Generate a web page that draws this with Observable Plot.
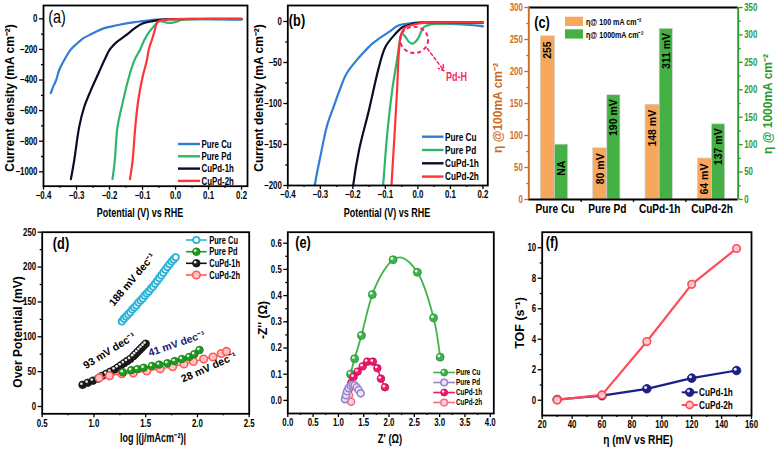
<!DOCTYPE html>
<html><head><meta charset="utf-8">
<script src="https://cdn.jsdelivr.net/npm/d3@7"></script>
<script src="https://cdn.jsdelivr.net/npm/@observablehq/plot@0.6"></script>
<style>
body{margin:0;background:#fff}
#fig{position:relative;width:778px;height:451px;overflow:hidden;background:#fff}
</style></head><body><div id="fig"></div>
<script>
// ---------- (a)/(b) LSV data : potential (V vs RHE) and current density (mA cm-2)
const cuV = [0.20,0.15,0.10,0.05,0.00,-0.03,-0.06,-0.09,-0.12,-0.14,-0.17,-0.19,-0.22,-0.24,-0.26,-0.28,-0.30,-0.317,-0.338,-0.353,-0.362,-0.370,-0.378];
const cuJ = [-6,-4,-3,-2,-1.5,-2.5,-5,-13,-21,-27,-39,-48,-64,-83,-105,-128,-165,-200,-273,-338,-403,-440,-486];
const pdV = [0.20,0.10,0.039,0.018,0.003,-0.008,-0.017,-0.027,-0.038,-0.048,-0.053,-0.063,-0.079,-0.095,-0.107,-0.125,-0.144,-0.161,-0.176,-0.184,-0.191];
const pdJ = [-2,-2.5,-3.7,-7,-19,-25,-27,-25,-19,-15,-19,-43.5,-84,-140,-200,-273,-403,-556,-708,-926,-1048];
const h1V = [0.20,0.10,0.00,-0.017,-0.048,-0.069,-0.10,-0.12,-0.151,-0.181,-0.199,-0.216,-0.232,-0.257,-0.277,-0.292,-0.307,-0.317];
const h1J = [-1,-1,-1.5,-3,-7,-15,-31,-56,-109,-157,-200,-273,-349,-469,-578,-708,-926,-1048];
const h2V = [0.20,0.10,0.01,-0.012,-0.038,-0.051,-0.058,-0.064,-0.072,-0.081,-0.087,-0.10,-0.113,-0.122,-0.130,-0.138];
const h2J = [-1,-1,-2,-3.7,-7,-15,-35,-84,-140,-200,-273,-382,-534,-708,-926,-1048];
const seriesNames = ["Pure Cu","Pure Pd","CuPd-1h","CuPd-2h"];
// Pd-H annotation in (b)
const pdhEllipse = {cx:-0.01, cy:-23, rx:0.043, ry:16};
const pdhArrow = [{x1:0.029, y1:-33, x2:0.080, y2:-60}];
const pdhLabel = [{x:0.119, y:-68, t:"Pd-H"}];

// ---------- (c) overpotentials
const catNames = ["Pure Cu","Pure Pd","CuPd-1h","CuPd-2h"];
const eta100 = [255,80,148,64];
const eta100Lbl = ["255","80 mV","148 mV","64 mV"];
const eta1000 = [100,190,311,137];
const eta1000Lbl = ["NA","190 mV","311 mV","137 mV"];

// ---------- (d) Tafel
const tCuX = [1.27,1.29,1.31,1.33,1.35,1.37,1.39,1.41,1.43,1.45,1.47,1.49,1.51,1.53,1.55,1.57,1.59,1.61,1.63,1.65,1.67,1.69,1.71,1.73,1.75,1.77,1.79];
const tCuY = [122,126,129,132,135,139,142,145,149,152,155,159,162,165,169,172,176,180,184,188,192,196,200,204,208,211,214];
const tPdX = [1.28,1.36,1.42,1.48,1.56,1.63,1.71,1.78,1.85,1.92,1.97,2.02];
const tPdY = [49,52,53.5,55.5,58,60,62,65,68,71,75,81];
const t1hX = [0.89,0.94,0.99,1.04,1.08,1.12,1.16,1.20,1.23,1.26,1.29,1.32,1.35,1.38,1.40,1.42,1.44,1.46,1.48,1.50];
const t1hY = [31,34,37,40,44,47,50,53,56,59,62,65,68,72,75,78,81,84,87,90];
const t2hX = [1.05,1.15,1.27,1.38,1.51,1.64,1.76,1.87,1.96,2.06,2.15,2.23,2.28];
const t2hY = [41,44,47,48,51,54,57,61,64.5,68,71,76,79];
const tafelText = ["188 mV dec\u207B\u00B9","93 mV dec\u207B\u00B9","41 mV dec\u207B\u00B9","28 mV dec\u207B\u00B9"];
const tafelX = [1.37,1.15,1.80,2.11];
const tafelY = [182,80,90,56];
const tafelRot = [-50,-32,-19,-24];
const tafelCol = ["#000","#000","#1a1a6e","#000"];

// ---------- (e) Nyquist
const nCuX = [1.24,1.32,1.455,1.67,2.08,2.56,2.88,3.01];
const nCuY = [0.10,0.159,0.248,0.404,0.537,0.489,0.315,0.165];
const nCuFitX = [1.17,1.24,1.32,1.455,1.67,1.88,2.08,2.25,2.56,2.88,3.01];
const nCuFitY = [0.03,0.10,0.159,0.248,0.404,0.49,0.537,0.545,0.489,0.315,0.165];
const nPdX = [1.13,1.15,1.17,1.20,1.24,1.28,1.32,1.36,1.40,1.44];
const nPdY = [0.005,0.02,0.035,0.047,0.056,0.06,0.058,0.05,0.04,0.027];
const n1hX = [1.21,1.25,1.30,1.38,1.48,1.57,1.68,1.77,1.84,1.92];
const n1hY = [0.045,0.065,0.09,0.11,0.13,0.148,0.148,0.123,0.083,0.05];
const n2hX = [1.14,1.17,1.21,1.25];
const n2hY = [0.01,0.025,0.02,-0.005];

// ---------- (f) TOF
const tofEta = [30,60,90,120,150];
const tof1h = [0.05,0.3,0.75,1.45,1.95];
const tof2h = [0.02,0.35,3.85,7.6,9.95];

// ================= drawing =================
const F = '"Liberation Sans", Arial, Helvetica, sans-serif';
const SX = 0.75;
const base = {fontFamily: F, fontSize: "10.5px", fontWeight: "bold", color: "#000", background: "transparent", overflow: "visible"};
const fig = document.getElementById("fig");
const fmt1 = d3.format(".1f"), fmt0 = d3.format("d");
const pts = (X, Y) => X.map((x, i) => ({x, y: Y[i]}));

function condense(svg) {
  svg.querySelectorAll("text").forEach(t => {
    const tr = t.getAttribute("transform") || "";
    if (/rotate/.test(tr)) return;
    t.setAttribute("transform", tr + ` scale(${SX},1)`);
  });
}
function put(svg, left, top) {
  condense(svg);
  svg.style.position = "absolute"; svg.style.left = left + "px"; svg.style.top = top + "px";
  fig.appendChild(svg); return svg;
}
function axes(xMaj, xMin, yMaj, yMin, xf, yf) {
  return [
    Plot.axisX({ticks: xMaj, tickSize: 4, tickPadding: 1.5, tickFormat: xf, label: null, strokeWidth: 1.3}),
    Plot.axisX({ticks: xMin, tickSize: 2, tickFormat: () => "", label: null, strokeWidth: 1.3}),
    Plot.axisY({ticks: yMaj, tickSize: 4, tickPadding: 2, tickFormat: yf, label: null, strokeWidth: 1.3}),
    Plot.axisY({ticks: yMin, tickSize: 2, tickFormat: () => "", label: null, strokeWidth: 1.3})
  ];
}
const frame = () => Plot.frame({stroke: "#000", strokeWidth: 1.8});
function sphere(data, c, r = 4) {
  return [
    Plot.dot(data, {x: "x", y: "y", r, fill: c, stroke: d3.color(c).darker(0.7) + "", strokeWidth: 0.8}),
    Plot.dot(data, {x: "x", y: "y", r: r * 0.35, fill: "#fff", fillOpacity: 0.9, dx: -r * 0.3, dy: -r * 0.3})
  ];
}
function ring(data, c, fill, r = 3.6, sw = 1.5) {
  return [Plot.dot(data, {x: "x", y: "y", r, fill, stroke: c, strokeWidth: sw})];
}

// colours
const C_CU = "#2f7dd6", C_PD = "#2fb56c", C_1H = "#0c0c24", C_2H = "#ff3535";
const lsvSets = [[cuV, cuJ, C_CU], [pdV, pdJ, C_PD], [h1V, h1J, C_1H], [h2V, h2J, C_2H]];
const lsvLines = (clip) => lsvSets.map(([V, J, c]) => Plot.line(pts(V, J), {x: "x", y: "y", stroke: c, strokeWidth: 2.2, curve: "catmull-rom", clip}));

// (a)
const pa = Plot.plot({
  width: 260, height: 215, marginLeft: 43, marginRight: 13, marginTop: 5, marginBottom: 29.3,
  x: {domain: [-0.4, 0.218]}, y: {domain: [-1094, 87]}, style: base,
  marks: [
    ...lsvLines(false),
    ...axes(d3.range(-4, 3).map(v => v / 10), d3.range(-7, 5, 2).map(v => v / 20), d3.range(-1000, 1, 200), d3.range(-1100, 0, 200).filter(v => v > -1094), fmt1, fmt0),
    frame()
  ]
});
put(pa, 0, 0);

// (b)
const pb = Plot.plot({
  width: 265, height: 215, marginLeft: 32.3, marginRight: 32.7, marginTop: 5, marginBottom: 30,
  x: {domain: [-0.4, 0.215]}, y: {domain: [-200, 19.5]}, style: base,
  marks: [
    ...lsvLines(true),
    Plot.arrow(pdhArrow, {x1: "x1", y1: "y1", x2: "x2", y2: "y2", stroke: "#ff1f5f", strokeWidth: 1.5, strokeDasharray: "3,2.5", headLength: 6}),
    Plot.text(pdhLabel, {x: "x", y: "y", text: "t", fill: "#ff1f5f", fontSize: 12}),
    ...axes(d3.range(-4, 3).map(v => v / 10), d3.range(-7, 5, 2).map(v => v / 20), d3.range(-200, 1, 50), d3.range(-175, 0, 50), fmt1, fmt0),
    frame()
  ]
});
{
  const bx = pb.scale("x"), by = pb.scale("y"), e = pdhEllipse;
  d3.select(pb).append("ellipse")
    .attr("cx", bx.apply(e.cx)).attr("cy", by.apply(e.cy))
    .attr("rx", Math.abs(bx.apply(e.cx + e.rx) - bx.apply(e.cx)))
    .attr("ry", Math.abs(by.apply(e.cy + e.ry) - by.apply(e.cy)))
    .attr("fill", "none").attr("stroke", "#ff1f5f").attr("stroke-width", 2).attr("stroke-dasharray", "4,3");
}
put(pb, 255, 0);

// (c)
const ORG = "#cf6b1f", GRN = "#2c9a2c", R = 300 / 350;
const cData = catNames.map((n, i) => ({i, n, a: eta100[i], al: eta100Lbl[i], b: eta1000[i], bl: eta1000Lbl[i]}));
const pc = Plot.plot({
  width: 293, height: 226, marginLeft: 43.3, marginRight: 40.3, marginTop: 7, marginBottom: 27,
  x: {domain: [-0.5, 3.5]}, y: {domain: [0, 300]}, style: base,
  marks: [
    Plot.rect(cData, {x1: d => d.i - 0.27, x2: d => d.i, y1: 0, y2: "a", fill: "#f8a85c", stroke: "#cfcfcf", strokeWidth: 0.6}),
    Plot.rect(cData, {x1: d => d.i, x2: d => d.i + 0.25, y1: 0, y2: d => d.b * R, fill: "#45b145", stroke: "#cfcfcf", strokeWidth: 0.6}),
    Plot.text(cData, {x: d => d.i - 0.135, y: "a", text: "al", rotate: -90, textAnchor: "end", dy: 5, fontSize: 10.5}),
    Plot.text(cData.filter(d => d.bl !== "NA"), {x: d => d.i + 0.125, y: d => d.b * R, text: "bl", rotate: -90, textAnchor: "end", dy: 4, fontSize: 10.5}),
    Plot.text(cData.filter(d => d.bl === "NA"), {x: d => d.i + 0.125, y: d => d.b * R, text: "bl", rotate: -90, textAnchor: "end", dy: 16, fontSize: 10.5}),
    Plot.axisY({ticks: d3.range(0, 301, 50), anchor: "left", color: ORG, tickSize: 4, tickPadding: 2, label: null, strokeWidth: 1.3}),
    Plot.axisY({ticks: d3.range(25, 300, 50), anchor: "left", color: ORG, tickSize: 2, tickFormat: () => "", label: null, strokeWidth: 1.3}),
    Plot.axisY({ticks: d3.range(0, 351, 50).map(v => v * R), anchor: "right", color: GRN, tickSize: 4, tickPadding: 2, tickFormat: d => Math.round(d / R), label: null, strokeWidth: 1.3}),
    Plot.axisY({ticks: d3.range(25, 350, 50).map(v => v * R), anchor: "right", color: GRN, tickSize: 2, tickFormat: () => "", label: null, strokeWidth: 1.3}),
    Plot.axisX({ticks: [0.5, 1.5, 2.5], tickSize: 3, tickFormat: () => "", label: null, strokeWidth: 1.3}),
    Plot.text(cData, {x: "i", text: "n", frameAnchor: "bottom", dy: 13, fontSize: 13.5}),
    Plot.ruleY([0, 300], {stroke: "#000", strokeWidth: 1.9}),
    Plot.ruleX([-0.5], {stroke: ORG, strokeWidth: 1.9}),
    Plot.ruleX([3.5], {stroke: GRN, strokeWidth: 1.9})
  ]
});
put(pc, 485, 0);

// (d)
const D_CU = "#2ab3d9", D_PD = "#1f9a1f", D_1H = "#111", D_2H = "#ff5a5a";
const tCu = pts(tCuX, tCuY), tPd = pts(tPdX, tPdY), t1h = pts(t1hX, t1hY), t2h = pts(t2hX, t2hY);
const tafel = tafelText.map((t, i) => ({t, x: tafelX[i], y: tafelY[i], r: tafelRot[i], c: tafelCol[i]}));
const pdP = Plot.plot({
  width: 260, height: 231, marginLeft: 41.7, marginRight: 11.3, marginTop: 11.7, marginBottom: 37.7,
  x: {domain: [0.5, 2.5]}, y: {domain: [-10.5, 250]}, style: base,
  marks: [
    Plot.line(t1h, {x: "x", y: "y", stroke: D_1H, strokeWidth: 1.4}),
    ...sphere(t1h, "#1a1a1a", 3.8),
    Plot.line(t2h, {x: "x", y: "y", stroke: D_2H, strokeWidth: 1.4}),
    ...ring(t2h, D_2H, "#ffc4c4", 3.8, 1.6),
    Plot.line(tPd, {x: "x", y: "y", stroke: D_PD, strokeWidth: 1.4}),
    ...sphere(tPd, D_PD, 3.8),
    Plot.line(tCu, {x: "x", y: "y", stroke: D_CU, strokeWidth: 1.4}),
    ...ring(tCu, D_CU, "#fff", 3.2, 1.8),
    Plot.text(tafel, {x: "x", y: "y", text: "t", rotate: "r", fill: "c", fontSize: 10.5}),
    ...axes(d3.range(5, 26, 5).map(v => v / 10), d3.range(75, 250, 50).map(v => v / 100), d3.range(0, 251, 50), d3.range(25, 250, 50), fmt1, fmt0),
    frame()
  ]
});
put(pdP, 0, 220);

// (e)
const E_CU = "#3db54a", E_PD = "#9c82cc", E_1H = "#f0186c", E_2H = "#f46a80";
const nCu = pts(nCuX, nCuY), nCuFit = pts(nCuFitX, nCuFitY), nPd = pts(nPdX, nPdY), n1h = pts(n1hX, n1hY), n2h = pts(n2hX, n2hY);
const pe = Plot.plot({
  width: 265, height: 231, marginLeft: 32.3, marginRight: 26.7, marginTop: 11.7, marginBottom: 38,
  x: {domain: [0, 4.07]}, y: {domain: [-0.05, 0.642]}, style: base,
  marks: [
    Plot.line(nCuFit, {x: "x", y: "y", stroke: E_CU, strokeWidth: 1.8, curve: "catmull-rom"}),
    ...sphere(nCu, E_CU, 4),
    Plot.line(n1h, {x: "x", y: "y", stroke: E_1H, strokeWidth: 1.6}),
    ...sphere(n1h, E_1H, 3.8),
    Plot.line(n2h, {x: "x", y: "y", stroke: E_2H, strokeWidth: 1.4}),
    ...ring(n2h, E_2H, "#ffd0d8", 3.5, 1.5),
    Plot.line(nPd, {x: "x", y: "y", stroke: E_PD, strokeWidth: 1.4}),
    ...ring(nPd, E_PD, "#eee6f8", 3.5, 1.6),
    ...axes(d3.range(0, 41, 5).map(v => v / 10), d3.range(25, 400, 50).map(v => v / 100), d3.range(0, 7).map(v => v / 10), d3.range(-1, 13, 2).map(v => v / 20).filter(v => v > -0.05 && v < 0.64), fmt1, fmt1),
    frame()
  ]
});
put(pe, 255, 220);

// (f)
const F_1H = "#1c1f8a", F_2H = "#ff4a5a";
const f1 = pts(tofEta, tof1h), f2 = pts(tofEta, tof2h);
const pf = Plot.plot({
  width: 263, height: 231, marginLeft: 26.7, marginRight: 27, marginTop: 11.7, marginBottom: 36,
  x: {domain: [20, 160]}, y: {domain: [-1, 11.02]}, style: base,
  marks: [
    Plot.line(f1, {x: "x", y: "y", stroke: F_1H, strokeWidth: 2.2}),
    ...sphere(f1, F_1H, 4.3),
    Plot.line(f2, {x: "x", y: "y", stroke: F_2H, strokeWidth: 2.2}),
    ...ring(f2, F_2H, "#ffc8cc", 3.8, 1.6),
    ...axes(d3.range(20, 161, 20), d3.range(30, 160, 20), d3.range(0, 11, 2), d3.range(1, 11, 2), fmt0, fmt0),
    frame()
  ]
});
put(pf, 515, 220);

// ================= overlay: titles, legends, panel labels =================
const ov = d3.select(fig).append("svg").attr("width", 778).attr("height", 451)
  .style("position", "absolute").style("left", "0px").style("top", "0px")
  .style("font-family", F).style("font-weight", "bold");
function ht(x, y, s, size, {anchor = "middle", color = "#000", weight = "bold", sx = SX} = {}) {
  ov.append("text").attr("transform", `translate(${x},${y}) scale(${sx},1)`).attr("text-anchor", anchor)
    .attr("font-size", size).attr("font-weight", weight).attr("fill", color).text(s);
}
function vt(x, y, s, size, {color = "#000"} = {}) {
  ov.append("text").attr("transform", `translate(${x},${y}) rotate(-90)`).attr("text-anchor", "middle")
    .attr("dy", "0.35em").attr("font-size", size).attr("fill", color).text(s);
}
function mark(x, y, st) {
  if (!st) return;
  if (st.type === "sphere") {
    ov.append("circle").attr("cx", x).attr("cy", y).attr("r", st.r).attr("fill", st.c).attr("stroke", d3.color(st.c).darker(0.7) + "").attr("stroke-width", 0.8);
    ov.append("circle").attr("cx", x - st.r * 0.3).attr("cy", y - st.r * 0.3).attr("r", st.r * 0.35).attr("fill", "#fff").attr("fill-opacity", 0.9);
  } else {
    ov.append("circle").attr("cx", x).attr("cy", y).attr("r", st.r).attr("fill", st.fill).attr("stroke", st.c).attr("stroke-width", st.sw);
  }
}
function legend(x1, x2, tx, ys, items, size, lw = 2.2) {
  items.forEach((it, k) => {
    const y = ys[k];
    ov.append("line").attr("x1", x1).attr("x2", x2).attr("y1", y).attr("y2", y).attr("stroke", it.c).attr("stroke-width", lw);
    mark((x1 + x2) / 2, y, it.m);
    ov.append("text").attr("transform", `translate(${tx},${y}) scale(${SX},1)`).attr("dy", "0.35em")
      .attr("font-size", size).attr("fill", "#000").text(it.label);
  });
}

// axis titles
vt(10, 98, "Current density (mA cm\u207B\u00B2)", 12);
ht(140, 217, "Potential (V) vs RHE", 12);
vt(259, 98, "Current density (mA cm\u207B\u00B2)", 12);
ht(387, 217, "Potential (V) vs RHE", 12);
vt(498, 108, "\u03B7 @100mA cm\u207B\u00B2", 12, {color: ORG});
vt(768, 104, "\u03B7 @ 1000mA cm\u207B\u00B2", 12, {color: GRN});
vt(18, 332, "Over Potential (mV)", 12);
ht(153, 442, "log |(j/mAcm\u207B\u00B2)|", 12);
vt(263, 320, "-Z'' (\u03A9)", 12);
ht(390, 443, "Z' (\u03A9)", 12.5);
vt(520, 323, "TOF (s\u207B\u00B9)", 12.5);
ht(638, 444, "\u03B7 (mV vs RHE)", 13.5);

// panel labels
ht(57, 23, "(a)", 18, {weight: "normal", sx: 0.8});
ht(297, 26, "(b)", 17);
ht(542, 28, "(c)", 17);
ht(61, 249, "(d)", 17);
ht(303, 248, "(e)", 17);
ht(552, 248, "(f)", 17);

// legends
const names = seriesNames;
legend(178, 200, 201.5, [144, 156.3, 168.6, 180.9], [
  {label: names[0], c: C_CU}, {label: names[1], c: C_PD}, {label: names[2], c: C_1H}, {label: names[3], c: C_2H}], 10.5, 2.4);
legend(422, 443.5, 445, [136.7, 150, 163.3, 176.6], [
  {label: names[0], c: C_CU}, {label: names[1], c: C_PD}, {label: names[2], c: C_1H}, {label: names[3], c: C_2H}], 11, 2.4);
// (c) legend
ov.append("rect").attr("x", 565).attr("y", 16.7).attr("width", 18).attr("height", 9.3).attr("fill", "#f8a85c");
ov.append("rect").attr("x", 565).attr("y", 29.3).attr("width", 18).attr("height", 9.3).attr("fill", "#45b145");
ht(586, 24.5, "\u03B7@ 100 mA cm\u207B\u00B2", 9.5, {anchor: "start"});
ht(586, 37.5, "\u03B7@ 1000mA cm\u207B\u00B2", 9.5, {anchor: "start"});
legend(186, 206.7, 209.3, [240, 251.7, 263.3, 275], [
  {label: names[0], c: D_CU, m: {type: "ring", r: 3.2, c: D_CU, fill: "#fff", sw: 1.8}},
  {label: names[1], c: D_PD, m: {type: "sphere", r: 3.8, c: D_PD}},
  {label: names[2], c: D_1H, m: {type: "sphere", r: 3.8, c: "#1a1a1a"}},
  {label: names[3], c: D_2H, m: {type: "ring", r: 3.8, c: D_2H, fill: "#ffc4c4", sw: 1.6}}], 10, 1.6);
legend(433.3, 455, 456, [372.5, 382.5, 392.5, 402.5], [
  {label: names[0], c: E_CU, m: {type: "sphere", r: 3.5, c: E_CU}},
  {label: names[1], c: E_PD, m: {type: "ring", r: 3.3, c: E_PD, fill: "#eee6f8", sw: 1.6}},
  {label: names[2], c: E_1H, m: {type: "sphere", r: 3.5, c: E_1H}},
  {label: names[3], c: E_2H, m: {type: "ring", r: 3.3, c: E_2H, fill: "#ffd0d8", sw: 1.5}}], 8.5, 1.6);
legend(681.7, 697.7, 699, [392.3, 405], [
  {label: names[2], c: F_1H, m: {type: "sphere", r: 4.2, c: F_1H}},
  {label: names[3], c: F_2H, m: {type: "ring", r: 3.6, c: F_2H, fill: "#ffc8cc", sw: 1.6}}], 11, 2);
</script></body></html>
